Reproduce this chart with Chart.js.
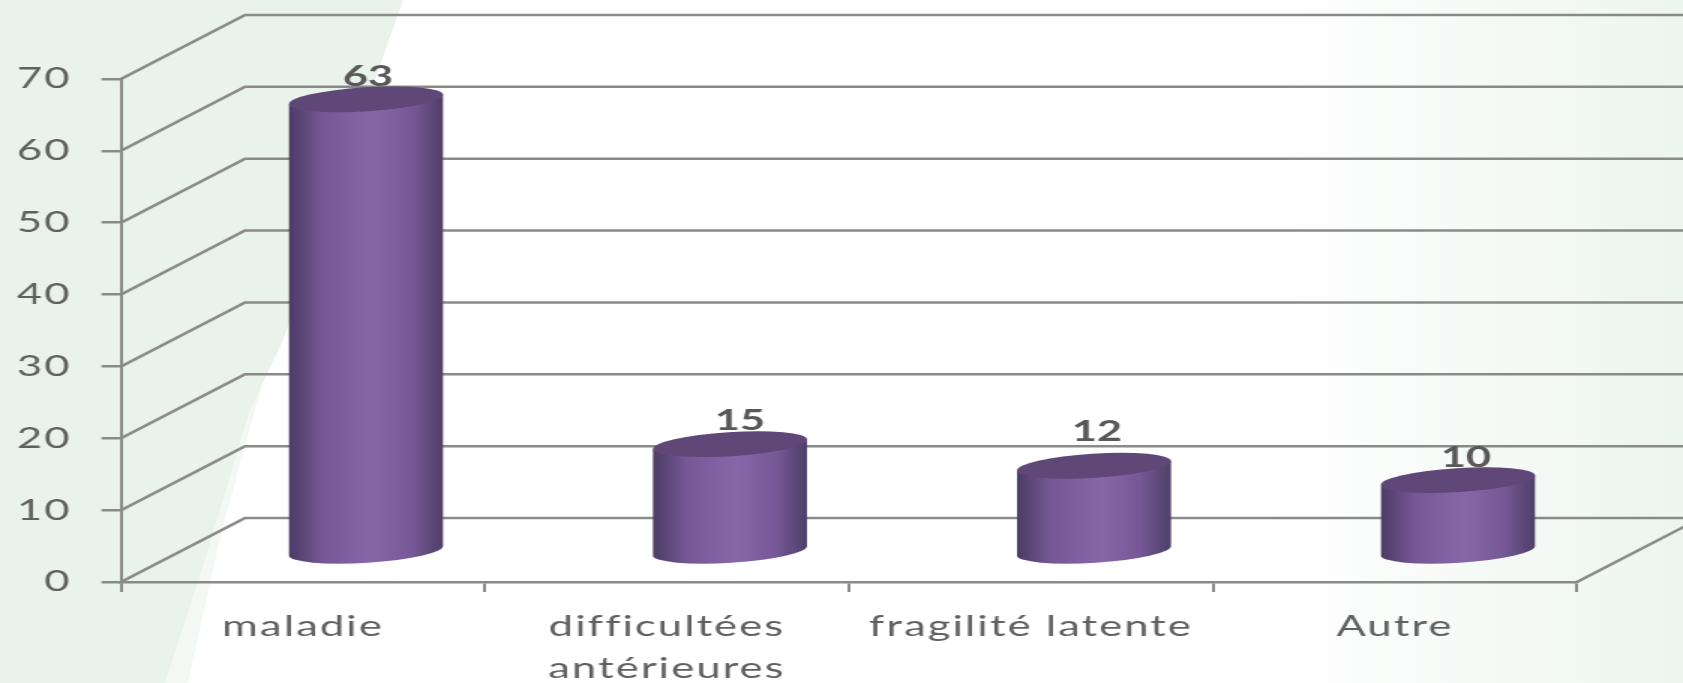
<!DOCTYPE html>
<html lang="fr">
<head>
<meta charset="utf-8">
<title>Graphique</title>
<script src="https://cdn.jsdelivr.net/npm/chart.js@4/dist/chart.umd.js"></script>
<style>
    html, body { margin: 0; padding: 0; width: 1683px; height: 683px; overflow: hidden; }
    body { background: linear-gradient(to right, #ffffff 1270px, #edf5ef 1683px); position: relative; }
    .wedge { position: absolute; inset: 0; }
    #wedgeSoft { background: #f4f8f5; clip-path: polygon(0 0, 403px 0, 283px 340px, 262px 385px, 222px 530px, 188px 683px, 0 683px); }
    #wedge { background: #eaf3eb; clip-path: polygon(0 0, 403px 0, 283px 340px, 250px 410px, 205px 560px, 165px 683px, 0 683px); }
    /* text on this slide is wide, so the canvas is stretched sideways */
    #chart { position: absolute; left: 0; top: 0; }
</style>
</head>
<body>
<div class="wedge" id="wedgeSoft"></div>
<div class="wedge" id="wedge"></div>
<canvas id="chart" width="1122" height="683" style="width:1683px;height:683px"></canvas>
<script>
const categories = ['maladie', ['difficultées', 'antérieures'], 'fragilité latente', 'Autre'];
const values = [63, 15, 12, 10];
const valueMax = 70;
const valueStep = 10;

// Horizontal stretch of the canvas
const SX = 1.5;
// Depth of the 3D box, canvas pixels
const depthX = 124 / SX;
const depthY = 64;
const lineColor = '#8a8a8a';
const textColor = '#606060';
// Bars sit a bit in front of the middle of the floor
const barDrop = 2;
const barNudge = 1 / SX;
// Value label offsets from the bar centre
const labelLift = [23, 24, 34, 23];
const labelShift = [3, 11, 4, 9];

// Cylinder drawn in place of the flat bar
class CylinderElement extends Chart.BarElement {
    static id = 'cylinder';

    draw(ctx) {
        const { x, y, base, width } = this.getProps(['x', 'y', 'base', 'width'], true);
        const cx = x + depthX / 2 + barNudge;
        const top = y - depthY / 2 + barDrop;
        const bottom = base - depthY / 2 + barDrop;
        const rx = width / 2;
        const ry = 12;
        const tilt = 0.095;
        const ex = rx * Math.cos(tilt);
        const ey = rx * Math.sin(tilt);

        const body = ctx.createLinearGradient(cx - ex, 0, cx + ex, 0);
        body.addColorStop(0, '#4c3b66');
        body.addColorStop(0.22, '#765896');
        body.addColorStop(0.55, '#8867a9');
        body.addColorStop(0.8, '#765896');
        body.addColorStop(1, '#4e3f68');

        ctx.save();
        ctx.fillStyle = body;
        ctx.beginPath();
        ctx.moveTo(cx - ex, top + ey);
        ctx.lineTo(cx - ex, bottom + ey);
        ctx.ellipse(cx, bottom, rx, ry, -tilt, Math.PI, 0, true);
        ctx.lineTo(cx + ex, top - ey);
        ctx.closePath();
        ctx.fill();

        // top of the cylinder
        ctx.fillStyle = '#5f4878';
        ctx.beginPath();
        ctx.ellipse(cx, top, rx, ry, -tilt, 0, Math.PI * 2);
        ctx.fill();
        ctx.restore();
    }
}

class CylinderController extends Chart.BarController {
    static id = 'cylinderBar';
    static defaults = { ...Chart.BarController.defaults, dataElementType: 'cylinder' };
    static overrides = Chart.BarController.overrides;
}

Chart.register(CylinderElement, CylinderController);

// Side wall, back wall and right floor edge
const boxPlugin = {
    id: 'box',
    beforeDraw(chart) {
        // axis text is spaced out a little and has no ligatures
        chart.ctx.letterSpacing = '1.4px';
    },
    beforeDatasetsDraw(chart) {
        const { ctx, width } = chart;
        const y = chart.scales.y;
        const x = chart.scales.x;
        ctx.save();
        ctx.strokeStyle = lineColor;
        ctx.lineWidth = 2.5;
        y.ticks.forEach((tick, i) => {
            const py = y.getPixelForTick(i);
            ctx.beginPath();
            ctx.moveTo(x.left, py);
            ctx.lineTo(x.left + depthX, py - depthY);
            ctx.lineTo(width, py - depthY);
            ctx.stroke();
        });
        ctx.beginPath();
        ctx.moveTo(x.right, y.bottom);
        ctx.lineTo(x.right + depthX, y.bottom - depthY);
        ctx.stroke();
        ctx.restore();
    }
};

// Value above each cylinder
const valueLabelPlugin = {
    id: 'valueLabels',
    afterDatasetsDraw(chart) {
        const { ctx } = chart;
        const bars = chart.getDatasetMeta(0).data;
        ctx.save();
        ctx.letterSpacing = '0px';
        ctx.fillStyle = '#585858';
        ctx.font = 'bold 29px Lato';
        ctx.textAlign = 'center';
        ctx.textBaseline = 'middle';
        bars.forEach((bar, i) => {
            const lx = bar.x + depthX / 2 + labelShift[i] / SX;
            ctx.fillText(values[i], lx, bar.y - depthY / 2 + barDrop - labelLift[i]);
        });
        ctx.restore();
    }
};

const chart = new Chart(document.getElementById('chart'), {
    type: 'cylinderBar',
    data: {
        labels: categories,
        datasets: [{
            data: values,
            backgroundColor: '#7a5a97',
            categoryPercentage: 1,
            barPercentage: 0.425
        }]
    },
    options: {
        responsive: false,
        animation: false,
        layout: { padding: { top: 79, right: (1683 - 1577) / SX, left: 0, bottom: 0 } },
        plugins: { legend: { display: false }, tooltip: { enabled: false } },
        scales: {
            x: {
                afterFit: scale => { scale.height = 101; },
                grid: { drawOnChartArea: false, color: lineColor, lineWidth: 2, tickLength: 10 },
                border: { color: lineColor, width: 2.5 },
                ticks: {
                    color: textColor,
                    padding: 14,
                    maxRotation: 0,
                    autoSkip: false,
                    font: { family: 'Lato', size: 29, lineHeight: 1.45 }
                }
            },
            y: {
                min: 0,
                max: valueMax,
                afterFit: scale => { scale.width = 121 / SX; },
                grid: { drawOnChartArea: false, color: lineColor, lineWidth: 2.5, tickLength: 13 },
                border: { color: lineColor, width: 2 },
                ticks: {
                    stepSize: valueStep,
                    color: textColor,
                    padding: 20,
                    font: { family: 'Lato', size: 29 }
                }
            }
        }
    },
    plugins: [boxPlugin, valueLabelPlugin]
});
</script>
</body>
</html>
